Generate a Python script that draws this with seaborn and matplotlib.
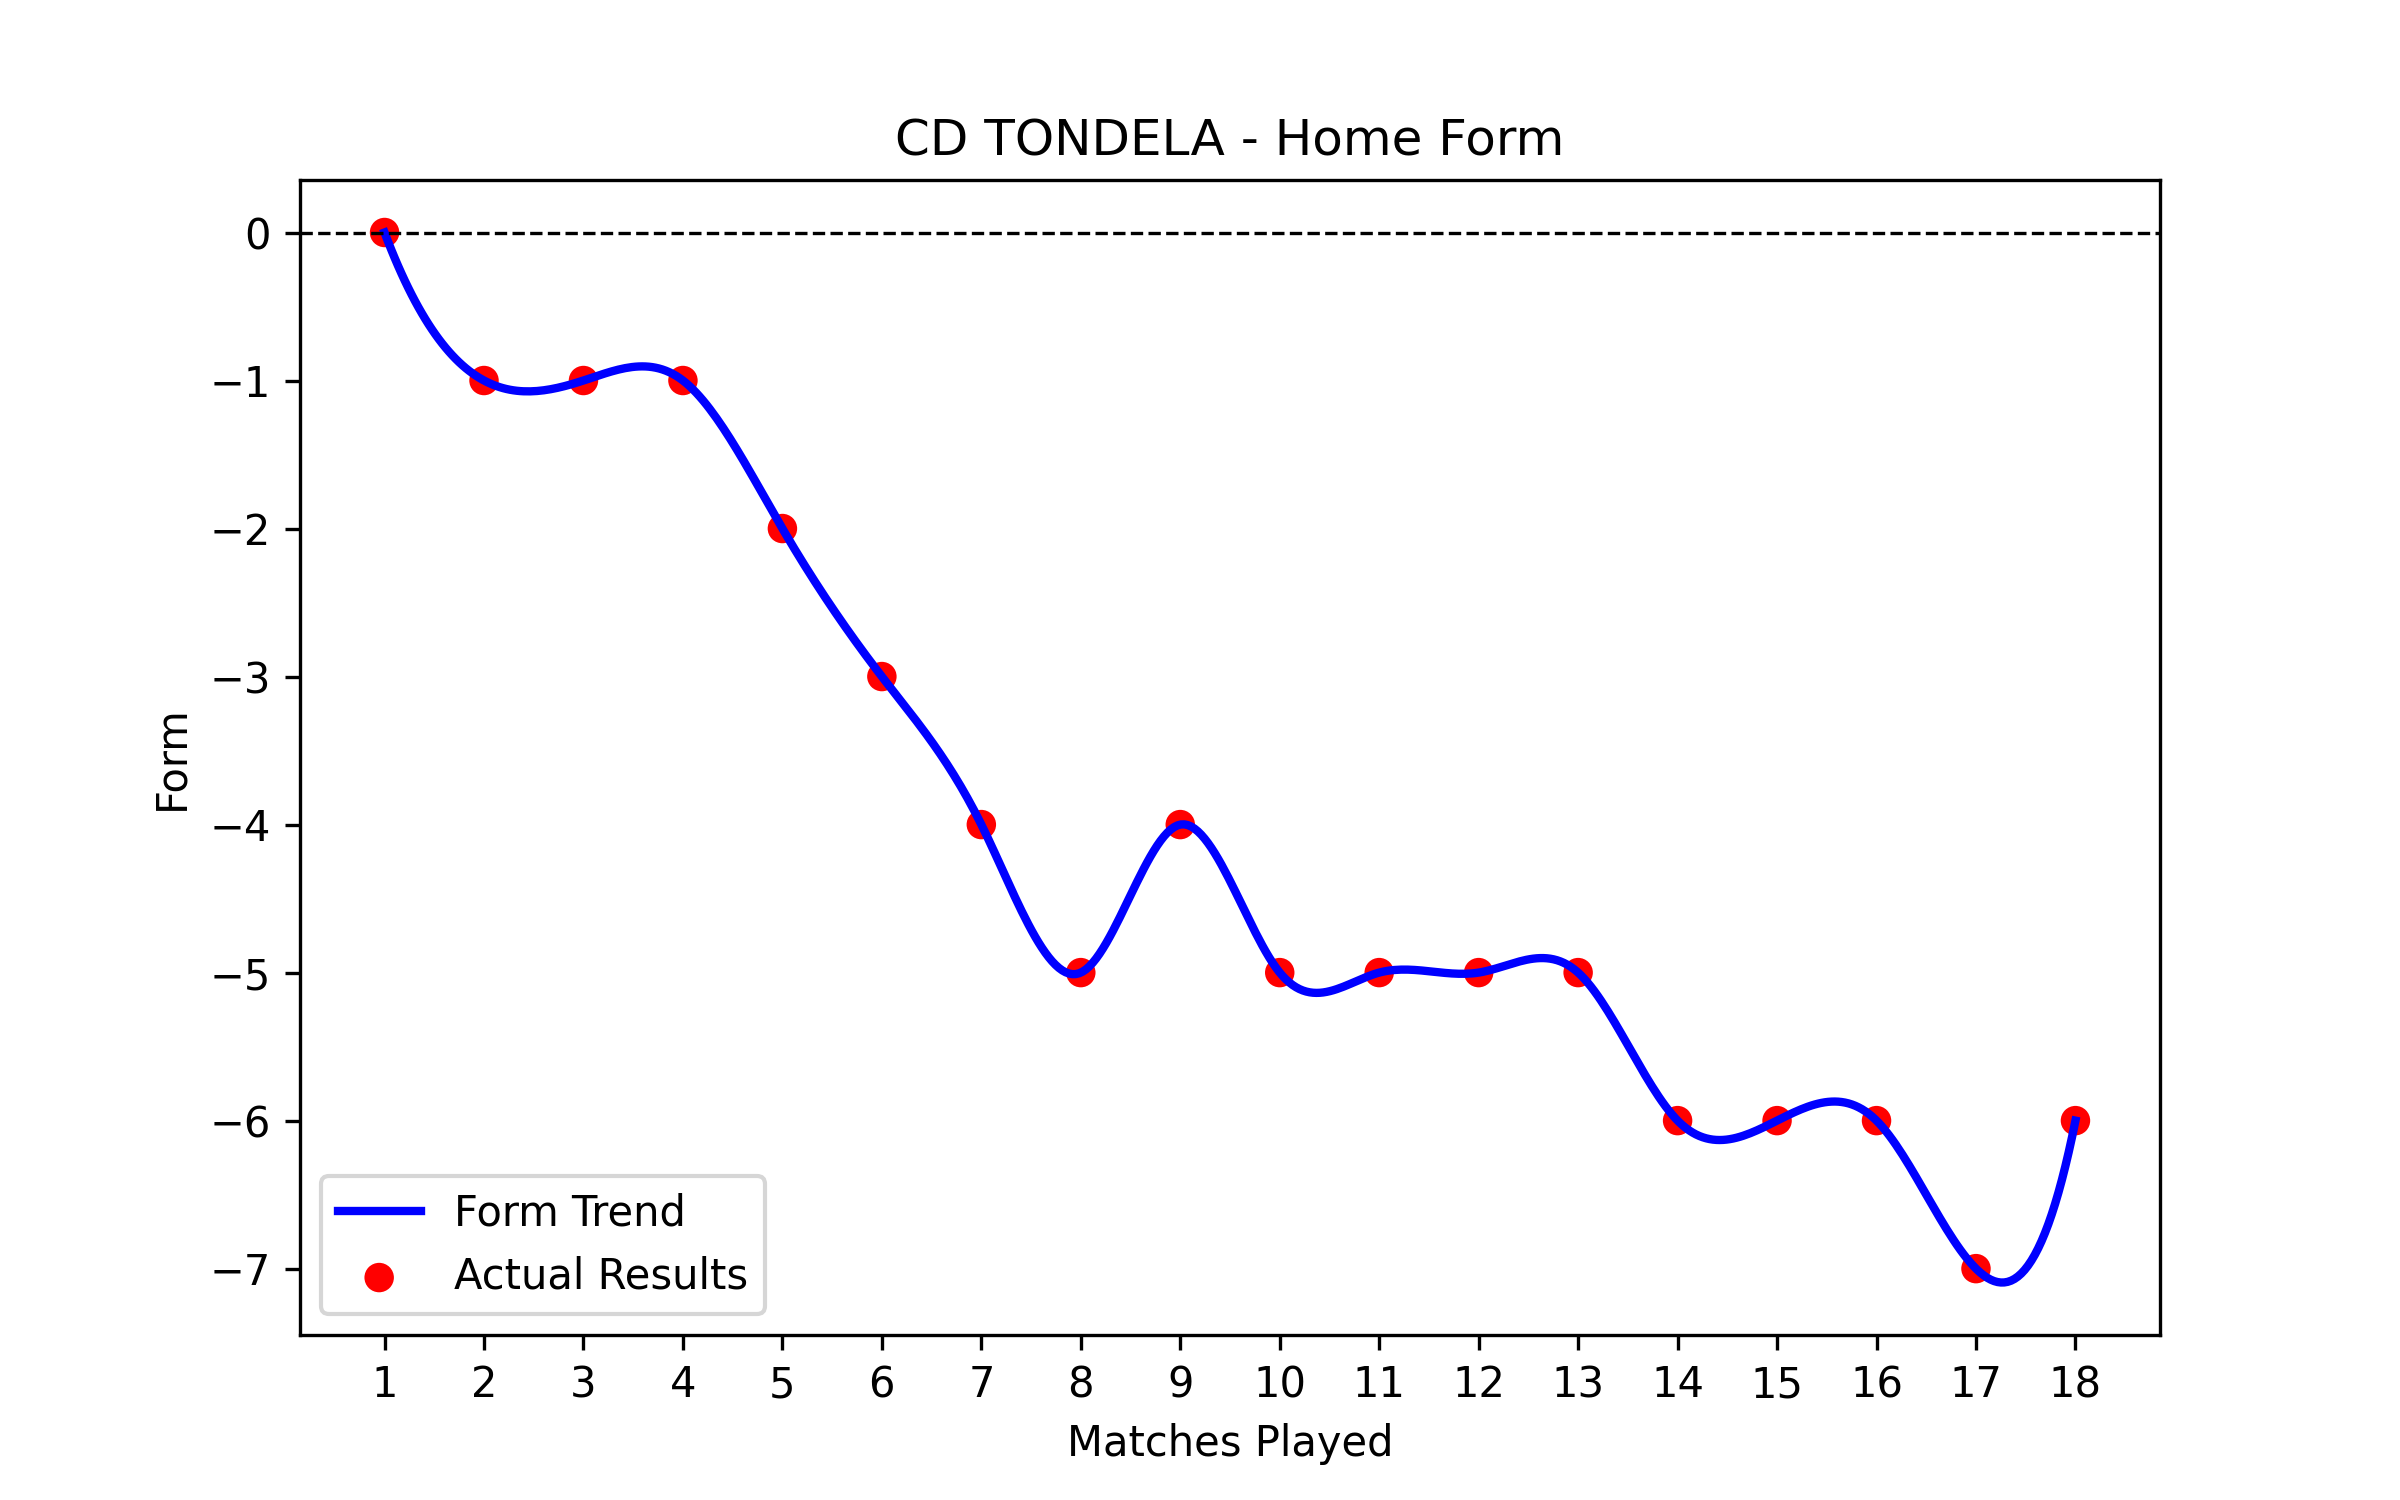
import numpy as np
import pandas as pd
import matplotlib
matplotlib.use("Agg")
import matplotlib.pyplot as plt
import seaborn as sns

matches = list(range(1, 19))
form = [0, -1, -1, -1, -2, -3, -4, -5, -4, -5, -5, -5, -5, -6, -6, -6, -7, -6]
title = "CD TONDELA - Home Form"


def not_a_knot_spline(x, y, num=500):
    x = np.asarray(x, float)
    y = np.asarray(y, float)
    n = len(x)
    h = np.diff(x)
    A = np.zeros((n, n))
    b = np.zeros(n)
    # not-a-knot boundaries
    A[0, 0] = h[1]
    A[0, 1] = -(h[0] + h[1])
    A[0, 2] = h[0]
    A[-1, -3] = h[-1]
    A[-1, -2] = -(h[-2] + h[-1])
    A[-1, -1] = h[-2]
    for i in range(1, n - 1):
        A[i, i - 1] = h[i - 1]
        A[i, i] = 2 * (h[i - 1] + h[i])
        A[i, i + 1] = h[i]
        b[i] = 6 * ((y[i + 1] - y[i]) / h[i] - (y[i] - y[i - 1]) / h[i - 1])
    M = np.linalg.solve(A, b)
    xs = np.linspace(x[0], x[-1], num)
    idx = np.clip(np.searchsorted(x, xs) - 1, 0, n - 2)
    x0, x1 = x[idx], x[idx + 1]
    hh = x1 - x0
    ys = (M[idx] * (x1 - xs) ** 3 / (6 * hh) + M[idx + 1] * (xs - x0) ** 3 / (6 * hh)
          + (y[idx] / hh - M[idx] * hh / 6) * (x1 - xs)
          + (y[idx + 1] / hh - M[idx + 1] * hh / 6) * (xs - x0))
    return xs, ys


xs, ys = not_a_knot_spline(matches, form)
curve = pd.DataFrame({"x": xs, "y": ys})
pts = pd.DataFrame({"x": matches, "y": form})

fig, ax = plt.subplots(figsize=(8, 5), dpi=300)
sns.lineplot(data=curve, x="x", y="y", ax=ax, color="blue", linewidth=2, label="Form Trend")
sns.scatterplot(data=pts, x="x", y="y", ax=ax, color="red", s=50, edgecolor="none",
                label="Actual Results")
ax.axhline(0, color="black", linestyle="--", linewidth=0.8)
ax.set_title(title)
ax.set_xlabel("Matches Played")
ax.set_ylabel("Form")
ax.set_xticks(matches)
ax.legend(loc="lower left")
fig.savefig("out.png", dpi=300)
